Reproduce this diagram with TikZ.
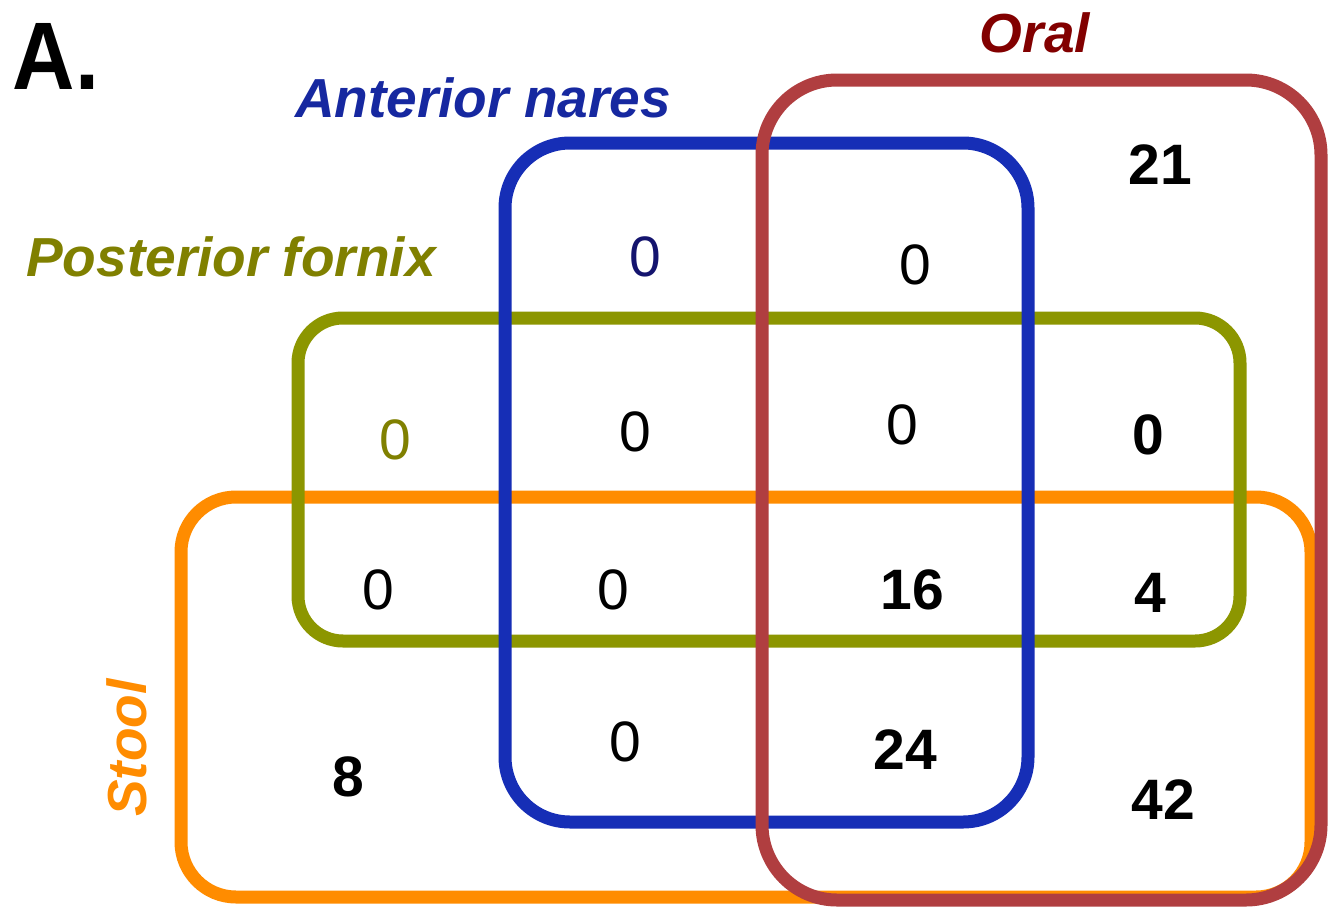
\documentclass[tikz,border=0pt]{standalone}
\usepackage{fontspec}
\setmainfont{Liberation Sans}
\definecolor{cOrange}{RGB}{255,140,0}
\definecolor{cGreen}{RGB}{140,150,0}
\definecolor{cBlue}{RGB}{22,46,182}
\definecolor{cRed}{RGB}{176,62,64}
\definecolor{tBlue}{RGB}{22,40,160}
\definecolor{tRed}{RGB}{130,0,0}
\definecolor{tGreen}{RGB}{128,128,0}
\definecolor{tNum}{RGB}{20,20,110}
\begin{document}
\begin{tikzpicture}[x=1pt,y=-1pt,
  setbox/.style={line width=13pt, rounded corners=#1},
  lbl/.style={font=\fontsize{55}{60}\selectfont\bfseries\itshape, inner sep=0pt, anchor=center},
  num/.style={font=\fontsize{57}{60}\selectfont, inner sep=0pt, anchor=center},
  bnum/.style={font=\fontsize{57}{60}\selectfont\bfseries, inner sep=0pt, anchor=center}]
\useasboundingbox (0,0) rectangle (1341,910);
\fill[white] (0,0) rectangle (1341,910);
% sets
\draw[setbox=55pt, cOrange] (181,497) rectangle (1311,897);
\draw[setbox=45pt, cGreen] (298,318) rectangle (1240,641);
\draw[setbox=65pt, cBlue] (505,143) rectangle (1028,822);
\draw[setbox=75pt, cRed] (762,80) rectangle (1321,900);
% labels
\node[font=\fontsize{96}{100}\selectfont\bfseries, inner sep=0pt, xscale=0.9] (panel) at (56,56) {A.};
\node[lbl, tBlue] (anterior) at (483,98) {Anterior nares};
\node[lbl, tRed] (oral) at (1035,33) {Oral};
\node[lbl, tGreen] (posterior) at (231,257) {Posterior fornix};
\node[lbl, cOrange, rotate=90] (stool) at (127,748) {Stool};
% numbers
\node[num, tNum] (n1) at (645,257) {0};
\node[num] (n2) at (915,265) {0};
\node[bnum] (n3) at (1160,165) {21};
\node[num, tGreen] (n4) at (395,440) {0};
\node[num] (n5) at (635,432) {0};
\node[num] (n6) at (902,425) {0};
\node[bnum] (n7) at (1148,435) {0};
\node[num] (n8) at (378,590) {0};
\node[num] (n9) at (613,590) {0};
\node[bnum] (n10) at (912,590) {16};
\node[bnum] (n11) at (1150,593) {4};
\node[bnum] (n12) at (348,777) {8};
\node[num] (n13) at (625,742) {0};
\node[bnum] (n14) at (905,750) {24};
\node[bnum] (n15) at (1163,800) {42};
\end{tikzpicture}
\end{document}
